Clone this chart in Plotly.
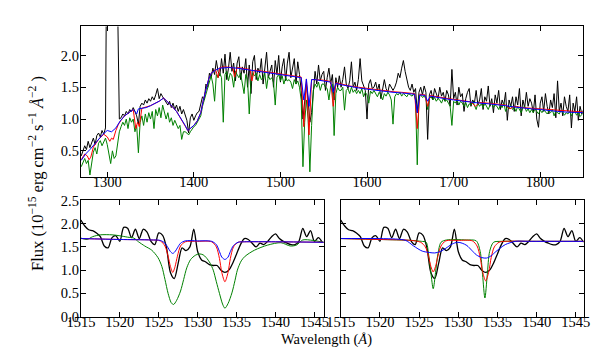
import plotly.graph_objects as go

# ---------------- top panel data (2 A grid) ----------------
wave_top = list(range(1270, 1851, 2))

flux_black = [
    0.42, 0.5, 0.58, 0.52, 0.65, 0.55, 0.62, 0.7, 0.6, 0.74,
    0.78, 0.72, 0.82, 0.76, 0.86, 6.0, 9.0, 9.0, 9.0, 9.0,
    9.0, 2.8, 1.0, 1.02, 1.08, 1.05, 1.12, 1.08, 1.15, 1.12,
    1.18, 1.12, 1.05, 0.92, 1.2, 1.25, 1.22, 1.3, 1.25, 1.32,
    1.28, 1.35, 1.3, 1.38, 1.48, 1.32, 1.4, 1.35, 1.3, 1.25,
    1.22, 1.28, 1.18, 1.25, 1.15, 1.22, 1.12, 1.2, 1.08, 1.15,
    1.05, 0.98, 0.78, 1.02, 1.08, 0.98, 1.05, 1.1, 1.12, 1.25,
    1.35, 1.3, 1.55, 1.5, 1.72, 1.65, 1.8, 1.7, 1.92, 1.75,
    1.68, 1.95, 1.72, 2.02, 1.62, 1.8, 2.05, 1.75, 1.88, 1.6,
    1.88, 1.98, 1.62, 1.82, 1.72, 1.95, 1.5, 1.85, 1.4, 1.9,
    2.0, 1.62, 1.8, 1.72, 1.95, 1.55, 1.78, 2.05, 1.65, 1.75,
    1.85, 1.5, 1.92, 1.7, 2.0, 1.58, 1.82, 1.95, 1.6, 1.88,
    2.05, 1.65, 1.78, 1.95, 1.55, 1.9, 1.7, 1.45, 1.0, 1.25,
    1.55, 1.3, 0.95, 1.1, 1.5, 1.75, 1.55, 1.85, 1.6, 1.7,
    1.75, 1.45, 1.65, 1.8, 1.55, 1.7, 1.3, 1.65, 1.5, 1.68,
    1.5, 1.62, 1.82, 1.55, 1.48, 1.6, 1.9, 1.5, 1.58, 1.45,
    1.62, 1.95, 1.6, 1.52, 1.45, 1.0, 1.55, 1.62, 1.48, 1.5,
    1.58, 1.45, 1.55, 1.32, 1.5, 1.62, 1.48, 1.42, 1.55, 1.5,
    1.45, 1.5, 1.58, 1.72, 1.65, 1.8, 1.92, 1.75, 1.6, 1.5,
    1.45, 1.55, 1.42, 1.48, 1.1, 1.42, 1.5, 1.38, 1.52, 1.42,
    0.68, 1.38, 1.45, 1.3, 1.48, 1.4, 1.32, 1.5, 1.36, 1.42,
    1.28, 1.45, 1.38, 1.2, 1.78, 1.32, 1.42, 1.22, 1.5, 1.35,
    1.4, 1.12, 1.32, 1.42, 1.48, 1.2, 1.3, 1.25, 1.45, 1.22,
    1.3, 1.48, 1.15, 1.35, 1.28, 1.52, 1.2, 1.32, 1.1, 1.38,
    1.25, 1.45, 1.15, 1.3, 1.22, 1.42, 0.98, 1.3, 1.2, 1.35,
    1.12, 1.35, 1.22, 1.48, 1.05, 1.3, 1.18, 1.42, 1.2, 1.32,
    1.25, 1.1, 1.38, 1.0, 0.87, 1.25, 1.35, 1.12, 1.4, 1.2,
    1.08, 1.3, 1.18, 1.4, 1.02, 1.6, 1.12, 1.25, 1.05, 1.35,
    1.2, 1.12, 1.38, 0.86, 1.25, 1.12, 1.35, 0.98, 1.2, 1.08,
    1.15,
]

flux_green = [
    0.25, 0.32, 0.38, 0.3, 0.35, 0.12, 0.3, 0.48, 0.55, 0.45,
    0.62, 0.66, 0.58, 0.65, 0.7, 0.6, 0.45, 0.3, 0.5, 0.38,
    0.42, 0.62, 0.8, 0.88, 0.95, 0.9, 1.0, 0.85, 1.02, 0.95,
    1.0, 0.8, 0.9, 0.47, 0.95, 1.05, 0.9, 1.08, 0.95, 1.1,
    1.0, 1.12, 0.85, 1.15, 1.05, 1.18, 1.02, 1.22, 1.12, 1.0,
    1.1, 0.95, 1.02, 0.9, 0.98, 0.92, 0.85, 0.9, 0.68, 0.8,
    0.8, 0.78, 0.75, 0.8, 0.85, 0.88, 0.9, 0.95, 1.0, 1.05,
    1.2, 1.3, 1.42, 1.5, 1.62, 1.68, 1.55, 1.28, 1.7, 1.65,
    1.72, 1.65, 0.95, 1.7, 1.75, 1.6, 1.72, 1.68, 1.5, 1.75,
    1.7, 1.65, 1.72, 1.55, 1.4, 1.7, 1.62, 1.08, 1.6, 1.72,
    1.68, 1.72, 1.6, 1.7, 1.62, 1.65, 1.72, 1.48, 1.68, 1.62,
    1.65, 1.58, 1.22, 1.66, 1.7, 1.6, 1.68, 1.55, 1.65, 1.6,
    1.62, 1.58, 1.48, 1.62, 1.55, 1.6, 1.5, 1.3, 0.25, 0.95,
    1.3, 1.0, 0.17, 0.9, 1.45, 1.55, 1.5, 1.58, 1.45, 1.55,
    1.55, 1.5, 1.48, 1.3, 1.52, 1.55, 0.74, 1.4, 1.5, 1.45,
    1.45, 1.5, 1.14, 1.45, 1.48, 1.4, 1.5, 1.42, 1.46, 1.4,
    1.45, 1.4, 1.48, 1.35, 1.42, 1.38, 1.25, 1.44, 1.4, 1.45,
    1.4, 1.35, 1.42, 1.38, 1.3, 1.4, 1.36, 1.42, 1.38, 1.3,
    0.92, 1.35, 1.4, 1.38, 1.42, 1.36, 1.4, 1.38, 1.35, 1.4,
    1.38, 1.36, 1.4, 1.3, 0.28, 1.35, 1.38, 1.34, 1.36, 1.32,
    1.15, 1.32, 1.35, 1.3, 1.34, 1.28, 1.32, 1.3, 1.25, 1.32,
    1.28, 1.3, 1.25, 1.2, 0.9, 1.28, 1.25, 1.3, 1.22, 1.28,
    1.25, 1.2, 1.26, 1.18, 1.24, 1.22, 1.28, 1.2, 1.15, 1.25,
    1.2, 1.24, 1.18, 1.25, 1.2, 1.15, 1.22, 1.26, 1.18, 1.22,
    1.2, 1.15, 1.22, 1.18, 1.25, 1.12, 1.2, 1.16, 1.22, 1.15,
    1.18, 1.12, 1.2, 1.15, 1.1, 1.18, 1.2, 1.12, 1.16, 1.1,
    1.15, 1.1, 1.16, 1.12, 1.08, 1.14, 1.1, 1.15, 1.12, 1.08,
    1.12, 1.1, 1.15, 1.05, 1.12, 1.1, 1.08, 1.14, 1.1, 1.06,
    1.1, 1.08, 1.12, 1.05, 1.1, 1.12, 1.06, 1.1, 1.04, 1.08,
    1.1,
]

wave_blue = [1270, 1275, 1280, 1285, 1290, 1295, 1300, 1305, 1310, 1315, 1320, 1325,
             1330, 1332, 1334, 1336, 1340, 1345, 1350, 1355, 1360, 1365, 1370, 1375,
             1380, 1385, 1390, 1393, 1396, 1400, 1404, 1408, 1411, 1414, 1417, 1420,
             1425, 1430, 1440, 1450, 1460, 1470, 1480, 1490, 1500, 1510, 1520, 1524,
             1527, 1530, 1533, 1536, 1540, 1550, 1558, 1561, 1564, 1570, 1580, 1590,
             1600, 1610, 1620, 1630, 1640, 1650, 1655, 1658, 1661, 1667, 1670, 1673,
             1680, 1690, 1700, 1710, 1720, 1730, 1740, 1750, 1760, 1770, 1780, 1790,
             1800, 1810, 1820, 1830, 1840, 1850]
flux_blue = [0.35, 0.45, 0.52, 0.6, 0.68, 0.76, 0.82, 0.8, 0.86, 0.97, 1.05, 1.1,
             1.15, 1.12, 1.08, 1.16, 1.17, 1.18, 1.21, 1.24, 1.28, 1.33, 1.27, 1.2,
             1.12, 1.02, 0.9, 0.82, 0.85, 0.9, 0.97, 1.1, 1.3, 1.45, 1.62, 1.72,
             1.77, 1.8, 1.81, 1.8, 1.78, 1.76, 1.74, 1.72, 1.7, 1.68, 1.66, 1.65,
             1.3, 1.63, 1.2, 1.62, 1.62, 1.6, 1.58, 1.42, 1.56, 1.54, 1.51, 1.49,
             1.47, 1.45, 1.43, 1.42, 1.41, 1.4, 1.39, 1.1, 1.38, 1.37, 1.28, 1.36,
             1.34, 1.32, 1.3, 1.28, 1.26, 1.25, 1.24, 1.23, 1.21, 1.19, 1.17, 1.16,
             1.15, 1.13, 1.12, 1.11, 1.1, 1.1]

wave_red = [1270, 1274, 1277, 1279, 1281, 1284, 1290, 1296, 1300, 1303, 1305, 1307,
            1310, 1313, 1316, 1320, 1325, 1330, 1333, 1335, 1337, 1340, 1350, 1360,
            1365, 1370, 1380, 1390, 1393, 1396, 1400, 1404, 1408, 1411, 1414, 1417,
            1420, 1425, 1428, 1430, 1435, 1440, 1445, 1447, 1450, 1460, 1465, 1467,
            1470, 1480, 1490, 1500, 1510, 1520, 1524, 1527, 1530, 1533, 1536, 1540,
            1550, 1558, 1561, 1564, 1570, 1580, 1590, 1600, 1610, 1620, 1630, 1640,
            1650, 1655, 1658, 1661, 1667, 1670, 1673, 1680, 1690, 1700, 1720, 1725,
            1730, 1740, 1760, 1765, 1770, 1780, 1800, 1820, 1840, 1850]
flux_red = [0.36, 0.45, 0.42, 0.36, 0.4, 0.56, 0.68, 0.76, 0.72, 0.65, 0.7, 0.68,
            0.82, 0.92, 0.98, 1.05, 1.1, 1.15, 0.85, 0.95, 0.88, 1.17, 1.21, 1.28,
            1.33, 1.27, 1.12, 0.9, 0.82, 0.85, 0.9, 0.97, 1.1, 1.3, 1.45, 1.62,
            1.72, 1.78, 1.65, 1.81, 1.82, 1.82, 1.81, 1.66, 1.81, 1.79, 1.78, 1.6,
            1.77, 1.75, 1.73, 1.71, 1.69, 1.67, 1.66, 0.88, 1.63, 0.75, 1.62, 1.62,
            1.61, 1.59, 1.2, 1.57, 1.55, 1.52, 1.5, 1.48, 1.46, 1.44, 1.43, 1.42,
            1.41, 1.4, 0.85, 1.39, 1.38, 1.2, 1.37, 1.35, 1.33, 1.31, 1.27, 1.2,
            1.26, 1.25, 1.22, 1.16, 1.2, 1.18, 1.16, 1.13, 1.11, 1.11]

# ---------------- zoomed panels ----------------
wave_zoom = [1515 + 0.5 * i for i in range(63)]
flux_zoom_black = [
    2.08, 1.95, 1.87, 1.85, 1.8, 1.72, 1.52, 1.48, 1.7, 1.74,
    1.62, 1.92, 1.9, 1.7, 1.88, 1.68, 1.88, 1.82, 1.62, 1.55,
    1.8, 1.75, 1.48, 0.95, 0.82, 1.15, 1.48, 1.42, 1.5, 1.88,
    1.4, 1.22, 1.18, 1.12, 1.1, 1.1, 1.0, 0.95, 1.0, 1.15,
    1.35, 1.55, 1.68, 1.66, 1.58, 1.5, 1.58, 1.55, 1.62, 1.72,
    1.78, 1.68, 1.62, 1.58, 1.55, 1.55, 1.62, 1.9, 1.72, 1.85,
    1.62, 1.7, 1.6,
]

wave_l_model = [1515, 1520, 1524, 1525.2, 1525.8, 1526.2, 1526.5, 1526.8, 1527.1, 1527.4,
                1527.8, 1528.4, 1530, 1531.8, 1532.4, 1532.8, 1533.1, 1533.5, 1533.9,
                1534.2, 1534.6, 1535.2, 1536, 1540, 1546.2]
flux_l_red = [1.68, 1.66, 1.65, 1.63, 1.52, 1.3, 1.08, 0.95, 1.08, 1.3,
              1.52, 1.61, 1.62, 1.61, 1.5, 1.25, 0.95, 0.75, 0.95,
              1.25, 1.5, 1.6, 1.61, 1.61, 1.6]
flux_l_blue = [1.68, 1.66, 1.65, 1.64, 1.58, 1.48, 1.4, 1.36, 1.4, 1.48,
               1.58, 1.63, 1.63, 1.62, 1.55, 1.4, 1.28, 1.23, 1.28,
               1.4, 1.53, 1.6, 1.61, 1.61, 1.6]
wave_l_green = [1515, 1515.8, 1516.5, 1517.5, 1519, 1520, 1521, 1521.8, 1522.4, 1523.2,
                1524.1, 1524.9, 1525.4, 1525.8, 1526.2, 1526.6, 1526.9, 1527.3, 1527.8,
                1528.2, 1528.6, 1529.1, 1529.7, 1530.2, 1530.7, 1531.1, 1531.6, 1532.0,
                1532.4, 1532.8, 1533.2, 1533.5, 1533.9, 1534.4, 1534.8, 1535.1, 1535.6,
                1536.1, 1537.3, 1539, 1540.7, 1541.9, 1542.7, 1543.5, 1544.8, 1546.2]
flux_l_green = [1.69, 1.66, 1.72, 1.76, 1.76, 1.74, 1.71, 1.69, 1.61, 1.52,
                1.43, 1.27, 1.08, 0.8, 0.5, 0.3, 0.26, 0.35, 0.55,
                0.8, 1.05, 1.23, 1.32, 1.35, 1.33, 1.27, 1.15, 1.0,
                0.75, 0.5, 0.27, 0.18, 0.28, 0.51, 0.78, 1.0, 1.2,
                1.3, 1.43, 1.54, 1.59, 1.52, 1.54, 1.65, 1.64, 1.6]

flux_r_red = [1.68, 1.66, 1.64, 1.6, 1.5, 1.3, 1.08, 0.96, 1.08, 1.3,
              1.52, 1.63, 1.64, 1.63, 1.52, 1.27, 0.97, 0.77, 0.97,
              1.27, 1.5, 1.6, 1.62, 1.62, 1.62]
wave_r_green = [1515, 1520, 1524, 1525.3, 1525.9, 1526.2, 1526.5, 1526.8, 1527.1, 1527.4,
                1527.8, 1528.5, 1531, 1532.3, 1532.8, 1533.1, 1533.4, 1533.7, 1534.0,
                1534.5, 1535.5, 1540, 1546]
flux_r_green = [1.68, 1.66, 1.64, 1.62, 1.6, 1.35, 0.95, 0.6, 0.95, 1.35,
                1.6, 1.65, 1.65, 1.63, 1.4, 0.9, 0.4, 0.9, 1.4,
                1.6, 1.62, 1.62, 1.62]
wave_r_blue = [1515, 1522, 1523.3, 1524.3, 1525.4, 1526.3, 1527.0, 1527.7, 1528.4, 1529.2,
               1529.9, 1530.5, 1531.1, 1531.7, 1532.3, 1533.0, 1533.6, 1534.2, 1534.8,
               1535.4, 1536, 1537.3, 1539, 1546]
flux_r_blue = [1.68, 1.67, 1.64, 1.52, 1.41, 1.38, 1.37, 1.4, 1.47, 1.56,
               1.6, 1.58, 1.53, 1.43, 1.33, 1.27, 1.26, 1.31, 1.4,
               1.48, 1.55, 1.62, 1.62, 1.62]

top_xticks = [1300, 1400, 1500, 1600, 1700, 1800]
top_yticks = [0.5, 1.0, 1.5, 2.0]
zoom_xticks = [1515, 1520, 1525, 1530, 1535, 1540, 1545]
zoom_yticks = [0.0, 0.5, 1.0, 1.5, 2.0, 2.5]

BLACK, GREEN, RED, BLUE = "#000000", "#008000", "#ff0000", "#0000ff"
FONT = "Liberation Serif"

fig = go.Figure()


def add(x, y, color, width, xa, ya, shape="linear"):
    line = dict(color=color, width=width, shape=shape)
    if shape == "spline":
        line["smoothing"] = 0.8
    fig.add_trace(go.Scatter(x=x, y=y, mode="lines", line=line,
                             xaxis=xa, yaxis=ya, showlegend=False, hoverinfo="skip"))


# top
add(wave_top, flux_black, BLACK, 1, "x", "y")
add(wave_top, flux_green, GREEN, 1, "x", "y")
add(wave_red, flux_red, RED, 1, "x", "y")
add(wave_blue, flux_blue, BLUE, 1, "x", "y")
# bottom-left
add(wave_zoom, flux_zoom_black, BLACK, 1.3, "x2", "y2", "spline")
add(wave_l_green, flux_l_green, GREEN, 1, "x2", "y2", "spline")
add(wave_l_model, flux_l_red, RED, 1, "x2", "y2", "spline")
add(wave_l_model, flux_l_blue, BLUE, 1, "x2", "y2", "spline")
# bottom-right
add(wave_zoom, flux_zoom_black, BLACK, 1.3, "x3", "y3", "spline")
add(wave_r_green, flux_r_green, GREEN, 1, "x3", "y3", "spline")
add(wave_l_model, flux_r_red, RED, 1, "x3", "y3", "spline")
add(wave_r_blue, flux_r_blue, BLUE, 1, "x3", "y3", "spline")

W, H = 599, 350
ax = dict(showline=True, linecolor="black", linewidth=1, mirror="ticks",
          ticks="inside", ticklen=5, tickcolor="black", tickwidth=1,
          showgrid=False, zeroline=False,
          tickfont=dict(family=FONT, size=14.5, color="black"))
xax = dict(ax, ticklabelstandoff=-8)
yax = dict(ax, ticklabelstandoff=-2)

fig.update_layout(
    width=W, height=H, margin=dict(l=0, r=0, t=0, b=0),
    paper_bgcolor="white", plot_bgcolor="white",
    xaxis=dict(xax, domain=[60 / W, 580 / W], range=[1269.6, 1849],
               tickvals=top_xticks, anchor="y"),
    yaxis=dict(yax, domain=[1 - 168.3 / H, 1 - 11 / H], range=[0.095, 2.455],
               tickvals=top_yticks, tickformat=".1f", anchor="x"),
    xaxis2=dict(xax, domain=[60 / W, 311.7 / W], range=[1515, 1546.2],
                tickvals=zoom_xticks, anchor="y2"),
    yaxis2=dict(yax, domain=[1 - 315 / H, 1 - 193.3 / H], range=[0, 2.5],
                tickvals=zoom_yticks, tickformat=".1f", anchor="x2"),
    xaxis3=dict(xax, domain=[329.3 / W, 581 / W], range=[1515, 1546.0],
                tickvals=zoom_xticks, anchor="y3"),
    yaxis3=dict(yax, domain=[1 - 315 / H, 1 - 193.3 / H], range=[0, 2.5],
                tickvals=zoom_yticks, showticklabels=False, anchor="x3"),
    annotations=[
        dict(text="Flux (10<sup>\u221215</sup> erg cm<sup>\u22122</sup> s<sup>\u22121</sup> "
                  "<i>\u00c5</i><sup>\u22122</sup> )",
             x=14 / W, y=1 - 165 / H, xref="paper", yref="paper", textangle=-90,
             showarrow=False, xanchor="center", yanchor="middle",
             font=dict(family=FONT, size=16.5, color="black")),
        dict(text="Wavelength (<i>\u00c5</i>)",
             x=315 / W, y=1 - 339 / H, xref="paper", yref="paper",
             showarrow=False, xanchor="center", yanchor="middle",
             font=dict(family=FONT, size=14.5, color="black")),
    ],
)

fig.write_html("out.html")
